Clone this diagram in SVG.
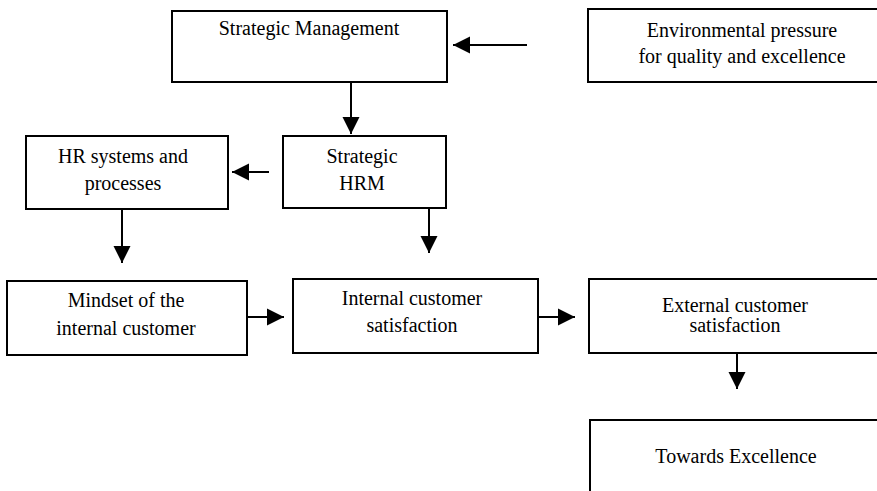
<svg xmlns="http://www.w3.org/2000/svg" width="877" height="491" viewBox="0 0 877 491">
<defs>
<style>
.box{fill:#fff;stroke:#000;stroke-width:2}
.t{font-family:"Liberation Serif","Times New Roman",serif;font-size:20px;fill:#000;text-anchor:middle}
.c{stroke:#000;stroke-width:2;fill:none;marker-end:url(#ah)}
</style>
<marker id="ah" markerUnits="userSpaceOnUse" markerWidth="18" markerHeight="18" viewBox="0 0 18 18" refX="17" refY="9" orient="auto">
<path d="M0,0.5 L17,9 L0,17.5 Z" fill="#000"/>
</marker>
</defs>
<rect width="877" height="491" fill="#fff"/>
<g id="strategic-management">
<rect class="box" x="172" y="11" width="275" height="71"/>
<text class="t" x="309" y="35">Strategic Management</text>
</g>
<g id="environmental-pressure">
<rect class="box" x="588" y="9" width="300" height="73"/>
<text class="t" x="742" y="37">Environmental pressure</text>
<text class="t" x="742" y="63">for quality and excellence</text>
</g>
<g id="hr-systems">
<rect class="box" x="26" y="136" width="202" height="73"/>
<text class="t" x="123" y="163">HR systems and</text>
<text class="t" x="123" y="190">processes</text>
</g>
<g id="strategic-hrm">
<rect class="box" x="283" y="136" width="163" height="72"/>
<text class="t" x="362" y="163">Strategic</text>
<text class="t" x="362" y="190">HRM</text>
</g>
<g id="mindset">
<rect class="box" x="7" y="281" width="240" height="74"/>
<text class="t" x="126" y="307">Mindset of the</text>
<text class="t" x="126" y="335">internal customer</text>
</g>
<g id="internal-satisfaction">
<rect class="box" x="293" y="279" width="245" height="74"/>
<text class="t" x="412" y="305">Internal customer</text>
<text class="t" x="412" y="332">satisfaction</text>
</g>
<g id="external-satisfaction">
<rect class="box" x="589" y="279" width="300" height="74"/>
<text class="t" x="735" y="312">External customer</text>
<text class="t" x="735" y="332">satisfaction</text>
</g>
<g id="towards-excellence">
<rect class="box" x="590" y="420" width="300" height="90"/>
<text class="t" x="736" y="463">Towards Excellence</text>
</g>
<g id="connectors">
<line class="c" x1="527" y1="45" x2="453" y2="45"/>
<line class="c" x1="351" y1="82" x2="351" y2="134"/>
<line class="c" x1="269" y1="172" x2="232" y2="172"/>
<line class="c" x1="122" y1="209" x2="122" y2="263"/>
<line class="c" x1="429" y1="208" x2="429" y2="253"/>
<line class="c" x1="247" y1="317" x2="284" y2="317"/>
<line class="c" x1="538" y1="317" x2="575" y2="317"/>
<line class="c" x1="737" y1="353" x2="737" y2="389"/>
</g>
</svg>
